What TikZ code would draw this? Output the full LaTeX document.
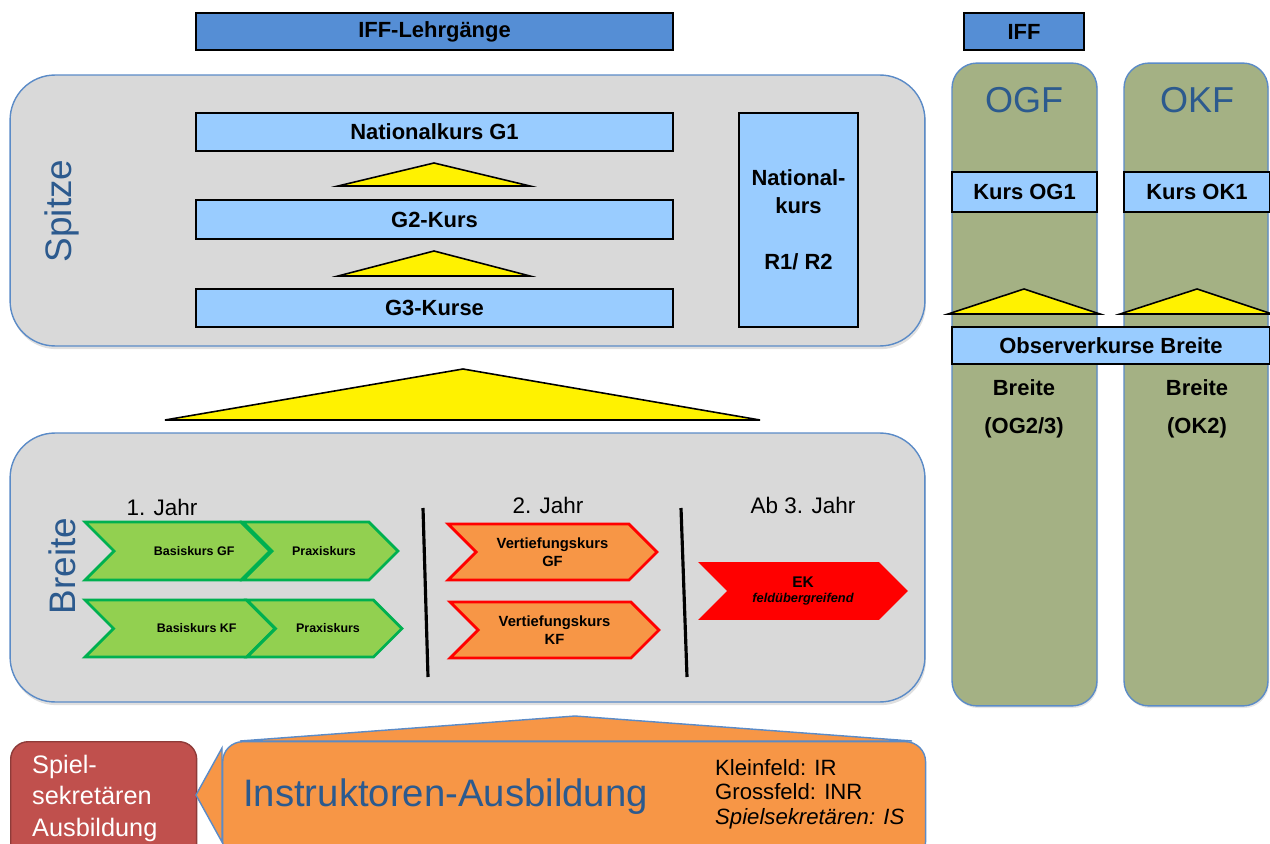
\documentclass[tikz,border=0pt]{standalone}
\usepackage{fontspec}
\setmainfont{Liberation Sans}
\usetikzlibrary{shapes.symbols,shadows}

\definecolor{hdrblue}{HTML}{558ED5}
\definecolor{boxblue}{HTML}{99CCFF}
\definecolor{panelgrey}{HTML}{D9D9D9}
\definecolor{edgeblue}{HTML}{5B8BC7}
\definecolor{textblue}{HTML}{2C5A8E}
\definecolor{kgreen}{HTML}{92D050}
\definecolor{kgreenline}{HTML}{00B050}
\definecolor{korange}{HTML}{F79646}
\definecolor{kred}{HTML}{FF0000}
\definecolor{sekred}{HTML}{C0504D}
\definecolor{sekline}{HTML}{8E3B39}
\definecolor{olive}{HTML}{A4B184}

\begin{document}
\begin{tikzpicture}[x=0.02cm,y=-0.02cm]
        \tikzset{
          hdr/.style={draw=black, line width=1.1pt, fill=hdrblue, inner sep=0pt, minimum height=0.74cm, font=\fontsize{12.5}{15}\selectfont\bfseries},
          kurs/.style={draw=black, line width=1.1pt, fill=boxblue, inner sep=0pt, font=\fontsize{12.5}{15.9}\selectfont\bfseries},
          panel/.style={draw=edgeblue, line width=0.8pt, fill=panelgrey, rounded corners=0.9cm, drop shadow={opacity=0.25, shadow xshift=0.6pt, shadow yshift=-1.8pt}},
          column/.style={draw=edgeblue, line width=0.8pt, fill=olive, rounded corners=0.5cm, minimum height=12.86cm, drop shadow={opacity=0.2, shadow xshift=0.6pt, shadow yshift=-1.2pt}},
          pyramid/.style={draw=black, line width=0.9pt, fill=yellow, line join=miter},
          chev/.style={shape=signal, signal to=east, signal from=west, signal pointer angle=90, line width=1.6pt, inner sep=0pt, line join=miter, align=center},
          basis/.style={chev, draw=kgreenline, fill=kgreen, minimum height=1.16cm, font=\fontsize{7.1}{8.5}\selectfont\bfseries},
          vertief/.style={chev, draw=kred, fill=korange, minimum height=1.12cm, minimum width=4.18cm, font=\fontsize{8.4}{10.5}\selectfont\bfseries},
          side/.style={rotate=90, text=textblue, font=\fontsize{21}{25}\selectfont},
          jahr/.style={font=\fontsize{12.8}{15}\selectfont},
          sep/.style={line width=1.8pt, black},
          instr/.style={draw=edgeblue, line width=0.8pt, fill=korange, line join=miter}
        }
        \useasboundingbox (0,0) rectangle (1270,844);

	%---NODES---
        \node[hdr, minimum width=9.54cm] (lehrg) at (434.5,31.5) {IFF-Lehrgänge};
        \node[hdr, minimum width=2.4cm] (iff) at (1024,31.5) {IFF};

        % Spitze
        \node[panel, minimum width=18.3cm, minimum height=5.42cm] (spitze) at (467.5,210.5) {};
        \node[side] (spitzetxt) at (62,211) {Spitze};
        \node[kurs, minimum width=9.54cm, minimum height=0.76cm] (g1) at (434.5,132) {Nationalkurs G1};
        \node[kurs, minimum width=9.54cm, minimum height=0.78cm] (g2) at (434.5,219.5) {G2-Kurs};
        \node[kurs, minimum width=9.54cm, minimum height=0.76cm] (g3) at (434.5,308) {G3-Kurse};
        \node[kurs, minimum width=2.38cm, minimum height=4.28cm, align=center] (r12) at (798.5,220) {National-\\kurs\\[15.9pt]R1/ R2};

        % Breite
        \node[panel, minimum width=18.3cm, minimum height=5.38cm] (breite) at (467.5,567.5) {};
        \node[side] (breitetxt) at (62,566) {Breite};
        \node[jahr] (j1) at (162,507) {1. Jahr};
        \node[jahr] (j2) at (548,505) {2. Jahr};
        \node[jahr] (j3) at (803,505) {Ab 3. Jahr};

        \node[basis, minimum width=3.7cm] (bgf) at (177.5,551) {\hspace*{19pt}Basiskurs GF};
        \node[basis, minimum width=3.1cm] (pgf) at (320.5,551) {\hspace*{4pt}Praxiskurs};
        \node[basis, minimum width=3.8cm, minimum height=1.14cm] (bkf) at (180,628.5) {\hspace*{19pt}Basiskurs KF};
        \node[basis, minimum width=3.1cm, minimum height=1.14cm] (pkf) at (324.5,628.5) {\hspace*{4pt}Praxiskurs};

        \node[vertief] (vgf) at (552.5,552) {Vertiefungskurs\\GF};
        \node[vertief] (vkf) at (554.5,630) {Vertiefungskurs\\KF};
        \node[chev, fill=kred, minimum width=4.2cm, minimum height=1.16cm, font=\fontsize{8.8}{9}\selectfont\bfseries] (ek) at (803,591) {EK\\[-1pt]{\fontsize{7.3}{9}\selectfont\itshape feldübergreifend}};

        \coordinate (s1a) at (423,508);
        \coordinate (s1b) at (428,677);
        \coordinate (s2a) at (681,508);
        \coordinate (s2b) at (687,677);

        % Ausbildung
        \node[draw=sekline, line width=0.8pt, fill=sekred, rounded corners=0.35cm, minimum width=3.72cm, minimum height=2.4cm, anchor=north west] (sek) at (10,741) {};
        \node[text=white, align=left, anchor=west, font=\fontsize{14.4}{17.9}\selectfont] (sektxt) at (26,798) {Spiel-\\sekretären\\Ausbildung};
        \draw[instr] (240,741) -- (575,716) -- (912,741) -- cycle;
        \draw[instr] (222,748) -- (196,795) -- (222,842) -- cycle;
        \node[instr, rounded corners=0.4cm, minimum width=14.06cm, minimum height=2.4cm, anchor=north west] (instrbox) at (222,741) {};
        \node[text=textblue, font=\fontsize{21.8}{26}\selectfont] (instrtxt) at (445.5,797) {Instruktoren-Ausbildung};
        \node[align=left, anchor=west, font=\fontsize{12.6}{13.9}\selectfont] (instrlist) at (709,794) {Kleinfeld: IR\\Grossfeld: INR\\\textit{Spielsekretären: IS}};

        % IFF Observer
        \node[column, minimum width=2.9cm] (ogf) at (1024.5,384.5) {};
        \node[column, minimum width=2.88cm] (okf) at (1196,384.5) {};
        \node[text=textblue, font=\fontsize{20.5}{24}\selectfont] (ogftxt) at (1024,100) {OGF};
        \node[text=textblue, font=\fontsize{20.5}{24}\selectfont] (okftxt) at (1197,100) {OKF};
        \node[kurs, minimum width=2.9cm, minimum height=0.8cm] (og1) at (1024.5,192) {Kurs OG1};
        \node[kurs, minimum width=2.92cm, minimum height=0.8cm] (ok1) at (1197,192) {Kurs OK1};
        \node[kurs, minimum width=6.36cm, minimum height=0.74cm] (obs) at (1111,345.5) {Observerkurse Breite};
        \node[font=\fontsize{12.5}{15}\selectfont\bfseries] (ogb) at (1024,388) {Breite};
        \node[font=\fontsize{12.5}{15}\selectfont\bfseries] (ogn) at (1024,428) {(OG2/3)};
        \node[font=\fontsize{12.5}{15}\selectfont\bfseries] (okb) at (1197,388) {Breite};
        \node[font=\fontsize{12.5}{15}\selectfont\bfseries] (okn) at (1197,428) {(OK2)};

	%---EDGES---
        \draw[pyramid] (338,186) -- (434,163) -- (530,186) -- cycle;
        \draw[pyramid] (338,276) -- (434,251) -- (530,276) -- cycle;
        \draw[pyramid] (165,420) -- (463,369) -- (760,420) -- cycle;
        \draw[pyramid] (948,314) -- (1024,289) -- (1100,314) -- cycle;
        \draw[pyramid] (1120,314) -- (1197,289) -- (1272,314) -- cycle;

        \draw[sep] (s1a) -- (s1b);
        \draw[sep] (s2a) -- (s2b);

    \end{tikzpicture}
\end{document}
